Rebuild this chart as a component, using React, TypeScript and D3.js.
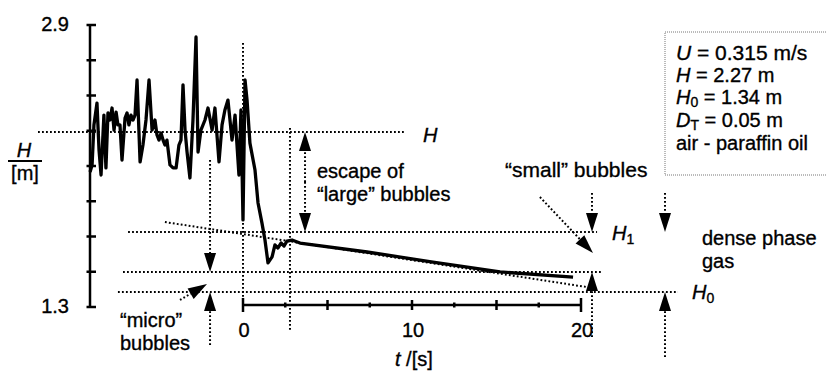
import React from 'react';
import * as d3 from 'd3';

const W = 826;
const HGT = 372;

// bed height signal H [m] vs time t [s]
const signalT = [-9.05, -8.93, -8.82, -8.64, -8.52, -8.40, -8.23, -8.11, -7.99, -7.87, -7.75, -7.63, -7.51, -7.40, -7.28, -7.16, -6.98, -6.86, -6.75, -6.63, -6.51, -6.39, -6.27, -6.09, -5.92, -5.74, -5.56, -5.38, -5.21, -5.09, -4.97, -4.85, -4.73, -4.62, -4.50, -4.32, -4.14, -3.96, -3.79, -3.67, -3.55, -3.43, -3.31, -3.14, -2.96, -2.78, -2.66, -2.49, -2.25, -2.07, -1.83, -1.66, -1.42, -1.24, -1.07, -0.89, -0.65, -0.47, -0.24, -0.12, 0.00, 0.12, 0.24, 0.41, 0.71, 0.89, 1.12, 1.30, 1.48, 1.72, 1.89, 2.07, 2.25, 2.43, 2.60, 2.90, 3.37, 7.34, 11.24, 15.21, 19.53];
const signalH = [2.066, 2.106, 2.333, 2.457, 2.191, 2.049, 2.389, 2.089, 2.401, 2.361, 2.429, 2.304, 2.406, 2.333, 2.333, 2.134, 2.372, 2.401, 2.333, 2.389, 2.361, 2.389, 2.588, 2.123, 2.219, 2.361, 2.588, 2.304, 2.361, 2.276, 2.247, 2.287, 2.247, 2.219, 2.247, 2.106, 2.089, 2.089, 2.219, 2.247, 2.560, 2.304, 2.179, 2.032, 2.361, 2.832, 2.179, 2.304, 2.361, 2.429, 2.304, 2.429, 2.123, 2.333, 2.418, 2.474, 2.247, 2.389, 2.049, 2.418, 1.794, 2.588, 2.474, 2.230, 2.077, 1.890, 1.777, 1.680, 1.550, 1.584, 1.652, 1.635, 1.663, 1.646, 1.674, 1.680, 1.663, 1.612, 1.555, 1.499, 1.470];

const yTicks = [1.3, 1.5, 1.7, 1.9, 2.1, 2.3, 2.5, 2.7, 2.9];
const yTickLabels = ['1.3', '2.9'];
const xTicks = [0, 2.5, 5, 7.5, 10, 12.5, 15, 17.5, 20];
const xTickLabels = [0, 10, 20];

// horizontal reference levels: H, H1, dense-phase end, H0
const levelValues = [2.293, 1.725, 1.499, 1.385];
const levelStarts = [-12.13, -6.80, -7.10, -7.40];
const levelEnds = [9.59, 20.95, 21.30, 25.74];

// extrapolated (tangent) line
const tangentT = [-4.62, 20.36];
const tangentH = [1.782, 1.413];

// vertical dotted markers
const markerT = [0, 2.78];
const markerTop = [2.798, 2.316];
const markerBottom = [1.34, 1.169];

// arrows: tail t, tail H, tip t, tip H
const arrowTailT = [3.67, 3.67, -1.95, -1.95, 20.65, 20.65, 24.97, 24.97, 17.57, -3.73];
const arrowTailH = [2.009, 2.009, 2.134, 1.084, 1.947, 1.130, 1.947, 1.016, 1.924, 1.340];
const arrowTipT = [3.67, 3.67, -1.95, -1.95, 20.65, 20.65, 24.97, 24.97, 20.71, -2.13];
const arrowTipH = [2.293, 1.725, 1.499, 1.385, 1.725, 1.499, 1.725, 1.385, 1.606, 1.430];

const FONT = '"Liberation Sans", Arial, Helvetica, sans-serif';
const DOT = '1.8 2.2';

export default function App() {
  const x = d3.scaleLinear().domain([0, 20]).range([243, 581]);
  const y = d3.scaleLinear().domain([1.3, 2.9]).range([307, 25]);
  const xAxisY = 305;
  const yAxisX = 90;

  const pts: [number, number][] = signalT.map((t, i) => [t, signalH[i]]);
  const line = d3.line<[number, number]>().x(d => x(d[0])).y(d => y(d[1]));

  const arrows = arrowTailT.map((_, i) => {
    const x1 = x(arrowTailT[i]), y1 = y(arrowTailH[i]);
    const x2 = x(arrowTipT[i]), y2 = y(arrowTipH[i]);
    const dx = x2 - x1, dy = y2 - y1;
    const len = Math.hypot(dx, dy);
    const ux = dx / len, uy = dy / len;
    const hl = Math.min(19, len * 0.7), hw = 6;
    const bx = x2 - ux * hl, by = y2 - uy * hl;
    const px = -uy, py = ux;
    const head = `M${x2},${y2}L${bx + px * hw},${by + py * hw}L${bx - px * hw},${by - py * hw}Z`;
    return (
      <g key={'a' + i}>
        <line x1={x1} y1={y1} x2={bx} y2={by} stroke="#000" strokeWidth={2} strokeDasharray={DOT} />
        <path d={head} fill="#000" />
      </g>
    );
  });

  const txt = { fontFamily: FONT, fontSize: 20, fill: '#000', stroke: '#000', strokeWidth: 0.35 } as const;

  return (
    <svg width={W} height={HGT} style={{ position: 'absolute', left: 0, top: 0, background: '#fff' }}>
      {/* reference levels */}
      {levelValues.map((v, i) => (
        <line key={'lv' + i} x1={x(levelStarts[i])} x2={x(levelEnds[i])} y1={y(v)} y2={y(v)}
          stroke="#000" strokeWidth={2} strokeDasharray={DOT} />
      ))}
      <line x1={x(tangentT[0])} y1={y(tangentH[0])} x2={x(tangentT[1])} y2={y(tangentH[1])}
        stroke="#000" strokeWidth={2} strokeDasharray={DOT} />
      {markerT.map((t, i) => (
        <line key={'mk' + i} x1={x(t)} x2={x(t)} y1={y(markerTop[i])} y2={y(markerBottom[i])}
          stroke="#000" strokeWidth={2} strokeDasharray={DOT} />
      ))}

      {/* y axis */}
      <line x1={yAxisX} x2={yAxisX} y1={y(2.9)} y2={y(1.3)} stroke="#000" strokeWidth={2.5} />
      {yTicks.map((v, i) => (
        <line key={'yt' + i} x1={yAxisX - 3.5} x2={yAxisX + 6} y1={y(v)} y2={y(v)} stroke="#000" strokeWidth={2.5} />
      ))}
      {yTickLabels.map(l => (
        <text key={'yl' + l} x={69} y={y(+l) + 6} textAnchor="end" {...txt}>{l}</text>
      ))}

      {/* x axis */}
      <line x1={x(0)} x2={x(20)} y1={xAxisY} y2={xAxisY} stroke="#000" strokeWidth={2.5} />
      {xTicks.map((t, i) => {
        const h = t === 0 || t === 20 ? 7 : t % 5 === 0 ? 5 : 2.5;
        return <line key={'xt' + i} x1={x(t)} x2={x(t)} y1={xAxisY - h} y2={xAxisY + h} stroke="#000" strokeWidth={2.5} />;
      })}
      {xTickLabels.map(t => (
        <text key={'xl' + t} x={x(t) + 1} y={337} textAnchor="middle" {...txt}>{t}</text>
      ))}
      <text x={395} y={366} {...txt}><tspan fontStyle="italic">t</tspan> /[s]</text>

      {/* y axis title */}
      <text x={24} y={157} textAnchor="middle" {...txt} fontStyle="italic">H</text>
      <line x1={8} x2={42} y1={161} y2={161} stroke="#000" strokeWidth={2} />
      <text x={25} y={180} textAnchor="middle" {...txt}>[m]</text>

      {/* signal */}
      <path d={line(pts) || ''} fill="none" stroke="#000" strokeWidth={3.3} strokeLinejoin="round" />

      {/* arrows */}
      {arrows}

      {/* annotations */}
      <text x={423} y={142} {...txt} fontStyle="italic">H</text>
      <text x={317} y={178} {...txt}>escape of</text>
      <text x={317} y={201} {...txt}>“large” bubbles</text>
      <text x={505} y={177} {...txt} fontSize={21}>“small” bubbles</text>
      <text x={612} y={240} {...txt}><tspan fontStyle="italic">H</tspan><tspan fontSize={14} dy={4}>1</tspan></text>
      <text x={702} y={245} {...txt}>dense phase</text>
      <text x={702} y={268} {...txt}>gas</text>
      <text x={692} y={299} {...txt}><tspan fontStyle="italic">H</tspan><tspan fontSize={14} dy={4}>0</tspan></text>
      <text x={120} y={327} {...txt}>“micro”</text>
      <text x={120} y={350} {...txt}>bubbles</text>

      {/* parameter box */}
      <rect x={665} y={32} width={170} height={143} fill="none" stroke="#777" strokeWidth={1} strokeDasharray="1 1" />
      <text x={676} y={60} {...txt} fontSize={21}><tspan fontStyle="italic">U</tspan> = 0.315 m/s</text>
      <text x={676} y={82} {...txt}><tspan fontStyle="italic">H</tspan> = 2.27 m</text>
      <text x={676} y={104} {...txt}><tspan fontStyle="italic">H</tspan><tspan fontSize={14} dy={3}>0</tspan><tspan dy={-3}> = 1.34 m</tspan></text>
      <text x={676} y={127} {...txt}><tspan fontStyle="italic">D</tspan><tspan fontSize={14} dy={3}>T</tspan><tspan dy={-3}> = 0.05 m</tspan></text>
      <text x={676} y={150} {...txt}>air - paraffin oil</text>
    </svg>
  );
}
